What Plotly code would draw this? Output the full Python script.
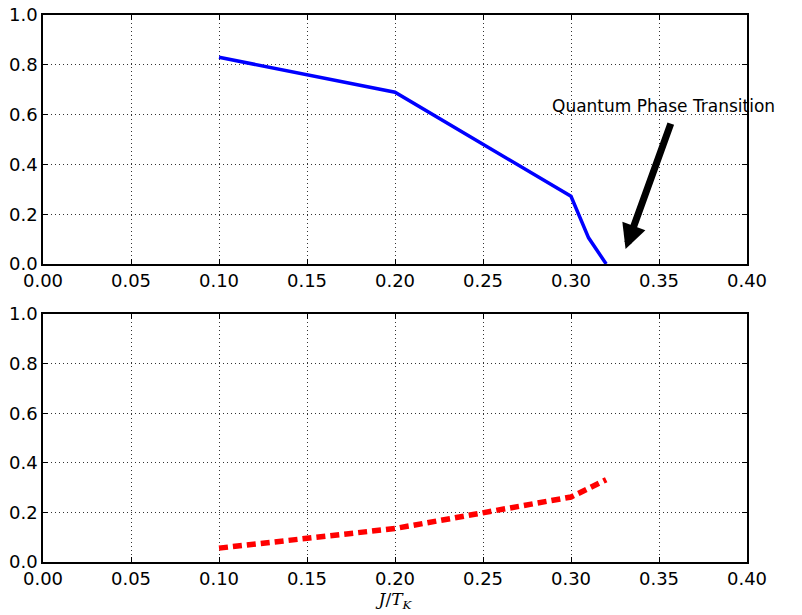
import plotly.graph_objects as go
from plotly.subplots import make_subplots

x_vals = [0.10, 0.20, 0.30, 0.31, 0.32]
top_vals = [0.83, 0.69, 0.272, 0.105, 0.0]
bottom_vals = [0.056, 0.135, 0.262, 0.30, 0.332]
x_ticks = [0.00, 0.05, 0.10, 0.15, 0.20, 0.25, 0.30, 0.35, 0.40]
y_ticks = [0.0, 0.2, 0.4, 0.6, 0.8, 1.0]

FONT = "DejaVu Sans"

fig = make_subplots(rows=2, cols=1, vertical_spacing=0.0)
fig.add_trace(go.Scatter(x=x_vals, y=top_vals, mode="lines",
                         line=dict(color="#0000ff", width=3.5)), row=1, col=1)
fig.add_trace(go.Scatter(x=x_vals, y=bottom_vals, mode="lines",
                         line=dict(color="#ff0000", width=5.5, dash="9px,5px")), row=2, col=1)

axis_common = dict(showline=True, linecolor="black", linewidth=1.5, mirror="ticks",
                   ticks="inside", ticklen=5, tickcolor="black", tickwidth=1,
                   showgrid=True, gridcolor="#333333", gridwidth=1, griddash="1px,3px",
                   zeroline=False, automargin=False, ticklabeloverflow="allow",
                   tickfont=dict(family=FONT, size=18, color="black"))

for r in (1, 2):
    fig.update_xaxes(range=[0, 0.4], tickvals=x_ticks,
                     ticktext=[f"{v:.2f}" for v in x_ticks], row=r, col=1, **axis_common)
    fig.update_yaxes(range=[0, 1.0], tickvals=y_ticks,
                     ticktext=[f"{v:.1f}" for v in y_ticks], row=r, col=1, **axis_common)

fig.update_layout(
    yaxis=dict(domain=[0.5448, 1.0]),
    yaxis2=dict(domain=[0.0, 0.4534]),
    xaxis2=dict(title=dict(text="<i>J</i>/<i>T</i><sub><i>K</i></sub>",
                           font=dict(family="DejaVu Serif", size=17, color="black"),
                           standoff=4)),
    width=794, height=607,
    margin=dict(l=35, r=55, t=7, b=53),
    plot_bgcolor="white", paper_bgcolor="white",
    showlegend=False,
)

fig.add_annotation(x=0.288, y=0.635, xref="x", yref="y", text="Quantum Phase Transition",
                   showarrow=False, xanchor="left", yanchor="middle",
                   font=dict(family=FONT, size=17, color="black"))
fig.add_annotation(x=0.331, y=0.06, xref="x", yref="y", ax=0.357, ay=0.57,
                   axref="x", ayref="y", text="", showarrow=True,
                   arrowhead=2, arrowsize=0.7, arrowwidth=7, arrowcolor="black",
                   standoff=0, startstandoff=0)

fig.write_html("out.html")
